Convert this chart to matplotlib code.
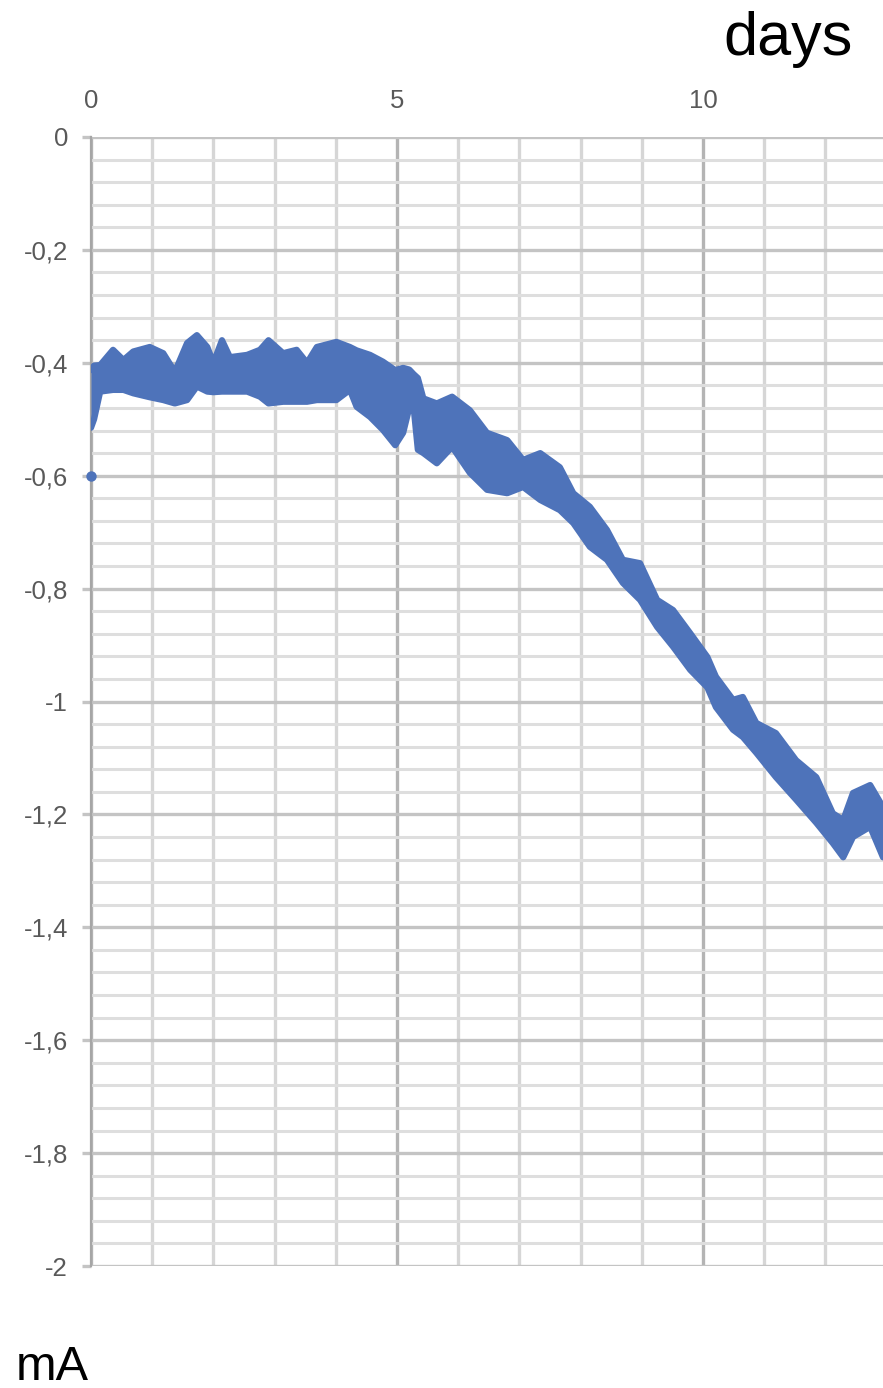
import matplotlib
matplotlib.use("Agg")
import matplotlib.pyplot as plt
from matplotlib.ticker import MultipleLocator, FixedLocator, FixedFormatter

# Measured current (mA) over time (days): upper / lower edge of the noisy trace
days = [0.00, 0.05, 0.15, 0.36, 0.53, 0.69, 0.96, 1.18, 1.37, 1.57, 1.73, 1.90,
        2.00, 2.14, 2.27, 2.55, 2.76, 2.90, 3.14, 3.36, 3.53, 3.69, 4.01, 4.23,
        4.34, 4.56, 4.77, 4.97, 5.10, 5.20, 5.27, 5.34, 5.43, 5.65, 5.90, 6.19,
        6.47, 6.80, 7.06, 7.34, 7.66, 7.88, 8.15, 8.43, 8.69, 8.97, 9.25, 9.51,
        9.79, 10.07, 10.21, 10.49, 10.65, 10.87, 11.19, 11.52, 11.85, 12.12,
        12.29, 12.45, 12.73, 12.94]
current_upper = [-0.413, -0.405, -0.404, -0.377, -0.395, -0.380, -0.372, -0.383,
                 -0.416, -0.365, -0.351, -0.372, -0.400, -0.360, -0.390, -0.386,
                 -0.377, -0.360, -0.383, -0.377, -0.400, -0.372, -0.363, -0.372,
                 -0.378, -0.386, -0.398, -0.413, -0.409, -0.412, -0.420, -0.427,
                 -0.463, -0.472, -0.460, -0.484, -0.524, -0.537, -0.572, -0.560,
                 -0.585, -0.631, -0.655, -0.696, -0.749, -0.755, -0.820, -0.838,
                 -0.879, -0.921, -0.956, -0.997, -0.992, -1.038, -1.056, -1.104,
                 -1.134, -1.198, -1.210, -1.162, -1.148, -1.187]
current_lower = [-0.515, -0.500, -0.451, -0.448, -0.448, -0.454, -0.461, -0.466,
                 -0.472, -0.466, -0.442, -0.451, -0.452, -0.451, -0.451, -0.451,
                 -0.460, -0.472, -0.469, -0.469, -0.469, -0.466, -0.466, -0.448,
                 -0.478, -0.496, -0.519, -0.546, -0.524, -0.480, -0.478, -0.554,
                 -0.560, -0.578, -0.549, -0.595, -0.625, -0.631, -0.620, -0.643,
                 -0.661, -0.684, -0.726, -0.749, -0.790, -0.820, -0.868, -0.903,
                 -0.944, -0.975, -1.010, -1.050, -1.063, -1.091, -1.134, -1.174,
                 -1.215, -1.251, -1.276, -1.240, -1.222, -1.276]

# Isolated first reading
first_day = [0.0]
first_reading = [-0.6]

x_ticks = [0, 5, 10]
x_tick_labels = ["0", "5", "10"]
y_ticks = [0, -0.2, -0.4, -0.6, -0.8, -1.0, -1.2, -1.4, -1.6, -1.8, -2.0]
y_tick_labels = ["0", "-0,2", "-0,4", "-0,6", "-0,8", "-1", "-1,2", "-1,4",
                 "-1,6", "-1,8", "-2"]

W, H = 883, 1388
fig = plt.figure(figsize=(W / 100, H / 100), dpi=100)
fig.patch.set_facecolor("white")

left, right, top, bottom = 91, 883, 137, 1266
ax = fig.add_axes([left / W, 1 - bottom / H, (right - left) / W, (bottom - top) / H])

ax.set_xlim(0, 12.94)
ax.set_ylim(-2, 0)

blue = "#4e73ba"
ax.fill_between(days, current_upper, current_lower, color=blue, lw=0, zorder=3)
for edge in (current_upper, current_lower):
    ax.plot(days, edge, color=blue, lw=4.5, solid_joinstyle="round",
            solid_capstyle="round", zorder=3)
ax.plot(first_day, first_reading, "o", color=blue, ms=7.5, mec="none",
        clip_on=False, zorder=4)

# Axes and gridlines
ax.xaxis.tick_top()
ax.xaxis.set_major_locator(FixedLocator(x_ticks))
ax.xaxis.set_major_formatter(FixedFormatter(x_tick_labels))
ax.xaxis.set_minor_locator(MultipleLocator(1))
ax.yaxis.set_major_locator(FixedLocator(y_ticks))
ax.yaxis.set_major_formatter(FixedFormatter(y_tick_labels))
ax.yaxis.set_minor_locator(MultipleLocator(0.04))

ax.set_axisbelow(True)
ax.grid(axis="y", which="minor", color="#dedede", lw=2.2)
ax.grid(axis="y", which="major", color="#c4c4c4", lw=2.4)
ax.grid(axis="x", which="minor", color="#d6d6d6", lw=2.4)
ax.grid(axis="x", which="major", color="#b4b4b4", lw=2.4)

label_family = ["Liberation Sans", "DejaVu Sans"]
ax.tick_params(axis="x", which="both", length=0, pad=17, labelcolor="#595959")
ax.tick_params(axis="y", which="major", length=6.5, width=2.4, color="#c4c4c4",
               pad=10, labelcolor="#595959")
ax.tick_params(axis="y", which="minor", length=0)
for lab in ax.get_xticklabels() + ax.get_yticklabels():
    lab.set_fontfamily(label_family)
    lab.set_fontsize(18.5)

for side in ("top", "right", "bottom"):
    ax.spines[side].set_visible(False)
ax.spines["left"].set_color("#a6a6a6")
ax.spines["left"].set_linewidth(1.6)

fig.text(723 / W, 1 - 55 / H, "days", fontsize=44, va="baseline", ha="left",
         family=label_family, color="black")
fig.text(16 / W, 1 - 1380 / H, "mA", fontsize=35, va="baseline", ha="left",
         family=label_family, color="black")

fig.savefig("out.png", dpi=100, facecolor="white")
